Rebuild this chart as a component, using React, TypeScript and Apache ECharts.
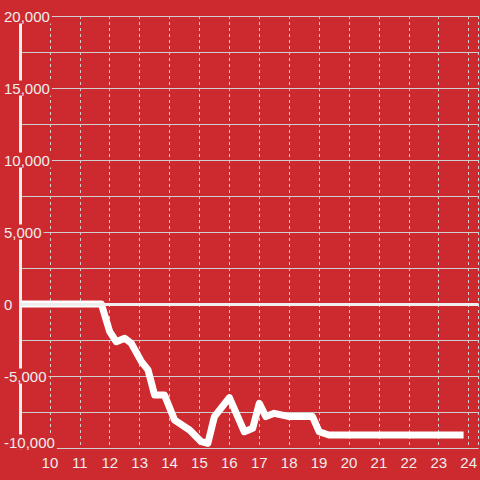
import React, { useEffect, useRef } from "react";
import * as echarts from "echarts";

const hours = [9, 11.72, 12.0, 12.22, 12.5, 12.72, 13.06, 13.28, 13.5, 13.83, 14.17, 14.67, 15.06, 15.28, 15.5, 16.0, 16.5, 16.78, 17.0, 17.22, 17.5, 18.0, 18.78, 19.0, 19.33, 23.83];
const values = [0, 0, -1920, -2620, -2380, -2730, -4000, -4580, -6320, -6320, -8060, -8750, -9560, -9680, -7820, -6500, -8870, -8630, -6900, -7820, -7590, -7820, -7820, -8870, -9100, -9100];

const BG = "#cc2a2f";
const FG = "#eeeeee";
const GRIDC = "#cfcfcf";

export default function App() {
  const ref = useRef<HTMLDivElement>(null);
  useEffect(() => {
    if (!ref.current) return;
    const chart = echarts.init(ref.current, undefined, { renderer: "svg" });
    const data = hours.map((h, i) => [h, values[i]]);
    chart.setOption({
      animation: false,
      backgroundColor: BG,
      textStyle: { fontFamily: "Liberation Sans" },
      grid: { left: 20, right: 0, top: 16, bottom: 32, containLabel: false },
      xAxis: {
        type: "value",
        min: 9,
        max: 24.3333,
        interval: 1,
        axisLine: { show: false },
        axisTick: { show: false },
        axisLabel: {
          showMinLabel: false,
          showMaxLabel: false,
          color: FG,
          fontSize: 15,
          margin: 7,
          fontFamily: "Liberation Sans",
        },
        splitLine: { show: true, lineStyle: { color: GRIDC, type: [3, 3], width: 1 } },
      },
      yAxis: [
        {
          type: "value",
          min: -10000,
          max: 20000,
          interval: 2500,
          axisLine: { show: false },
          axisTick: { show: false },
          axisLabel: { show: false },
          splitLine: { show: true, lineStyle: { color: GRIDC, width: 1 } },
          z: 0,
        },
        {
          type: "value",
          min: -10000,
          max: 20000,
          interval: 5000,
          position: "left",
          z: 5,
          axisLine: { show: true, onZero: false, lineStyle: { color: FG, width: 3 } },
          axisTick: { show: false },
          splitLine: { show: false },
          axisLabel: {
            color: FG,
            fontSize: 15,
            align: "left",
            margin: 16,
            fontFamily: "Liberation Sans",
            formatter: (v: number) => {
              const t = v.toLocaleString("en-US");
              return v === -10000 ? `{a|${t}}\n{e| }` : `{a|${t}}`;
            },
            rich: {
              a: {
                color: FG,
                fontSize: 15,
                fontFamily: "Liberation Sans",
                lineHeight: 16,
                backgroundColor: BG,
                padding: [0, 2, 0, 0],
              },
              e: { fontSize: 1, lineHeight: 12 },
            },
          },
        },
      ],
      series: [
        {
          type: "line",
          yAxisIndex: 0,
          data,
          symbol: "none",
          lineStyle: { color: "#ffffff", width: 7, join: "round", cap: "butt" },
          markLine: {
            silent: true,
            symbol: "none",
            label: { show: false },
            lineStyle: { color: FG, width: 3, type: "solid" },
            data: [{ yAxis: 0 }],
          },
          z: 3,
        },
      ],
    });
    return () => chart.dispose();
  }, []);
  return (
    <div
      ref={ref}
      style={{ position: "fixed", left: 0, top: 0, width: 480, height: 480 }}
    />
  );
}
